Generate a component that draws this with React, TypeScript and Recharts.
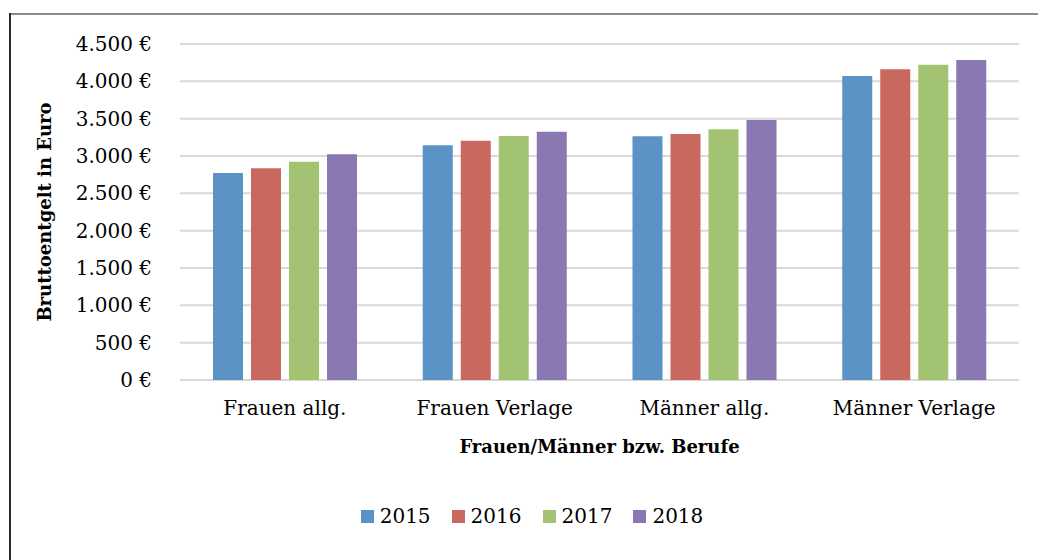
import React from 'react';
import { BarChart, Bar, XAxis, YAxis, CartesianGrid, Legend } from 'recharts';

const categories = ['Frauen allg.', 'Frauen Verlage', 'Männer allg.', 'Männer Verlage'];
const years = ['2015', '2016', '2017', '2018'];
const values2015 = [2772, 3143, 3263, 4071];
const values2016 = [2835, 3205, 3295, 4161];
const values2017 = [2924, 3268, 3357, 4223];
const values2018 = [3023, 3326, 3482, 4286];
const yTicks = [0, 500, 1000, 1500, 2000, 2500, 3000, 3500, 4000, 4500];
const colors = ['#5b93c7', '#c9685f', '#a2c472', '#8a78b2'];

const data = categories.map((c, i) => ({
  name: c,
  '2015': values2015[i],
  '2016': values2016[i],
  '2017': values2017[i],
  '2018': values2018[i],
}));

const FONT = '"DejaVu Serif", serif';

const fmt = (v: number) => {
  const s = String(v).replace(/\B(?=(\d{3})+(?!\d))/g, '.');
  return s + '\u00A0€';
};

const YTitle = (props: any) => {
  const vb = props.viewBox || { x: 0, y: 44, width: 180, height: 336 };
  const cx = vb.x + 44;
  const cy = vb.y + vb.height / 2;
  return (
    <text x={cx} y={cy} transform={`rotate(-90 ${cx} ${cy})`} textAnchor="middle" dominantBaseline="central"
      fontFamily={FONT} fontWeight="bold" fontSize={18} fill="#000">
      Bruttoentgelt in Euro
    </text>
  );
};

const XTitle = (props: any) => {
  const vb = props.viewBox || { x: 180, y: 380, width: 839, height: 60 };
  const cx = vb.x + vb.width / 2;
  const cy = vb.y + 66;
  return (
    <text x={cx} y={cy} textAnchor="middle" dominantBaseline="central"
      fontFamily={FONT} fontWeight="bold" fontSize={18} fill="#000">
      Frauen/Männer bzw. Berufe
    </text>
  );
};

const LegendContent = (props: any) => {
  const payload = props.payload || [];
  return (
    <div style={{ display: 'flex', justifyContent: 'center', paddingLeft: 26, fontFamily: FONT, fontSize: 20, color: '#000' }}>
      {payload.map((p: any, i: number) => (
        <div key={i} style={{ display: 'flex', alignItems: 'center', marginRight: i < payload.length - 1 ? 21 : 0 }}>
          <span style={{ display: 'inline-block', width: 13, height: 13, background: p.color, marginRight: 6 }} />
          <span>{p.value}</span>
        </div>
      ))}
    </div>
  );
};

export default function App() {
  return (
    <div style={{ position: 'absolute', left: 0, top: 0, width: 1038, height: 560, background: '#fff' }}>
      <div style={{ position: 'absolute', left: 9, top: 13, width: 1029, height: 2, background: '#8a8a8a' }} />
      <div style={{ position: 'absolute', left: 9, top: 13, width: 2, height: 547, background: '#2a2a2a' }} />
      <BarChart width={1038} height={560} data={data} margin={{ top: 44, right: 19, left: 0, bottom: 120 }}
        barGap={8} barSize={30}>
        <CartesianGrid vertical={false} stroke="#d9d9d9" strokeWidth={2} />
        <XAxis dataKey="name" height={60} axisLine={false} tickLine={false} tickSize={0} tickMargin={21}
          tick={{ fontFamily: FONT, fontSize: 20, fill: '#000' }} interval={0} label={<XTitle />} />
        <YAxis width={180} domain={[0, 4500]} ticks={yTicks} axisLine={false} tickLine={false} tickSize={0}
          tickMargin={28} tickFormatter={fmt} tick={{ fontFamily: FONT, fontSize: 20, fill: '#000' }}
          label={<YTitle />} />
        <Legend verticalAlign="middle" layout="horizontal" content={<LegendContent />}
          wrapperStyle={{ top: 504, left: 0, width: 1038, height: 28 }} />
        {years.map((y, i) => (
          <Bar key={y} dataKey={y} fill={colors[i]} isAnimationActive={false} />
        ))}
      </BarChart>
    </div>
  );
}
